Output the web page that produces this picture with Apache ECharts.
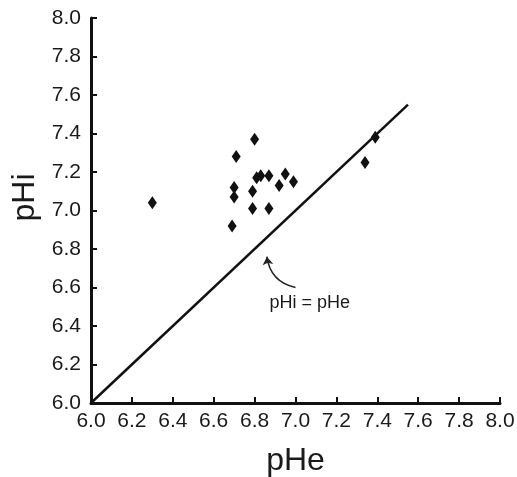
<!DOCTYPE html>
<html>
<head>
<meta charset="utf-8">
<script src="https://cdn.jsdelivr.net/npm/echarts@6/dist/echarts.min.js"></script>
<style>html,body{margin:0;padding:0;background:#fff;}#c{width:517px;height:477px;}</style>
</head>
<body>
<div id="c"></div>
<script>
// Data
const pHe = [6.30, 6.71, 6.70, 6.70, 6.69, 6.80, 6.79, 6.79, 6.81, 6.83, 6.87, 6.87, 6.92, 6.95, 6.99, 7.34, 7.39];
const pHi = [7.04, 7.28, 7.12, 7.07, 6.92, 7.37, 7.10, 7.01, 7.17, 7.18, 7.18, 7.01, 7.13, 7.19, 7.15, 7.25, 7.38];
const identityLine = [6.0, 7.55];
const tickValues = [6.0, 6.2, 6.4, 6.6, 6.8, 7.0, 7.2, 7.4, 7.6, 7.8, 8.0];
const annotationText = 'pHi = pHe';
const annotationPos = [7.07, 6.52];
const arrowFrom = [7.0, 6.60];
const arrowTo = [6.86, 6.76];

const font = '"Liberation Sans", Arial, Helvetica, sans-serif';
const axisCommon = {
  type: 'value',
  min: tickValues[0],
  max: tickValues[tickValues.length - 1],
  interval: 0.2,
  splitLine: { show: false },
  axisLine: { show: true, lineStyle: { color: '#111', width: 3 } },
  axisTick: { show: true, inside: true, length: 6, lineStyle: { color: '#111', width: 2 } },
  axisLabel: { color: '#1a1a1a', fontSize: 21, fontFamily: font, formatter: v => v.toFixed(1) },
  nameLocation: 'middle',
  nameTextStyle: { color: '#1a1a1a', fontSize: 32, fontFamily: font }
};

const chart = echarts.init(document.getElementById('c'), null, { renderer: 'canvas' });
chart.setOption({
  animation: false,
  backgroundColor: '#fff',
  grid: { left: 91, right: 17, top: 18, bottom: 74, containLabel: false, outerBoundsMode: 'none' },
  xAxis: Object.assign({}, axisCommon, {
    name: 'pHe', nameGap: 42,
    axisLabel: Object.assign({}, axisCommon.axisLabel, { margin: 8 })
  }),
  yAxis: Object.assign({}, axisCommon, {
    name: 'pHi', nameGap: 48,
    nameTextStyle: Object.assign({}, axisCommon.nameTextStyle, { padding: [0, 0, 0, 26] }),
    axisLabel: Object.assign({}, axisCommon.axisLabel, { margin: 10 })
  }),
  series: [
    {
      type: 'line',
      data: identityLine.map(v => [v, v]),
      symbol: 'none',
      lineStyle: { color: '#111', width: 2.5 },
      silent: true, z: 2
    },
    {
      type: 'scatter',
      data: pHe.map((x, i) => [x, pHi[i]]),
      symbol: 'diamond',
      symbolSize: [9, 13],
      itemStyle: { color: '#111', opacity: 1 },
      z: 3
    },
    {
      type: 'lines',
      coordinateSystem: 'cartesian2d',
      data: [{ coords: [arrowFrom, arrowTo] }],
      symbol: ['none', 'arrow'],
      symbolSize: 8,
      lineStyle: { color: '#222', width: 1.5, curveness: 0.35, opacity: 1 },
      z: 4
    },
    {
      type: 'scatter',
      data: [annotationPos],
      symbolSize: 0,
      itemStyle: { opacity: 1 },
      label: { show: true, position: 'inside', formatter: annotationText, color: '#1a1a1a', fontSize: 18, fontFamily: font },
      z: 5
    }
  ]
});
</script>
</body>
</html>
